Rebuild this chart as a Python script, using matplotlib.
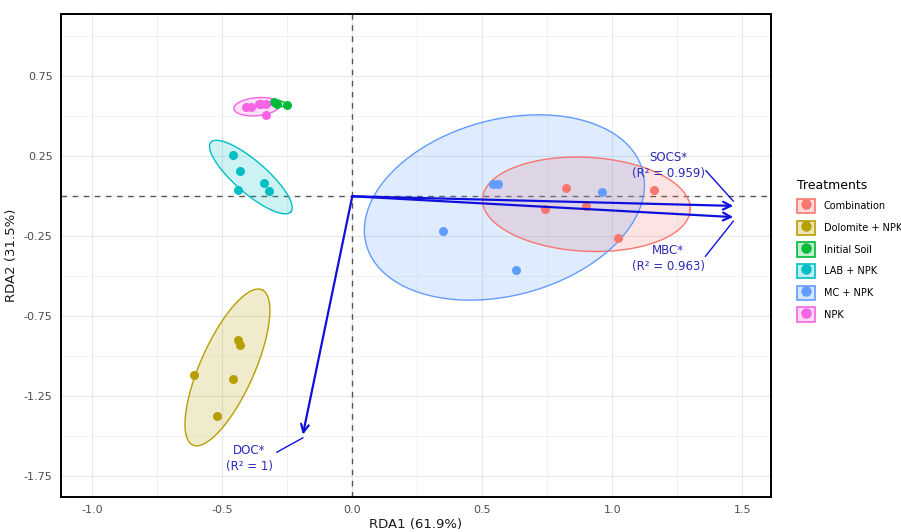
import numpy as np
import matplotlib.pyplot as plt
from matplotlib.patches import Rectangle
from matplotlib.lines import Line2D

# ---- data ----
groups = ["Combination", "Dolomite + NPK", "Initial Soil", "LAB + NPK", "MC + NPK", "NPK"]
colors = ["#F8766D", "#B79F00", "#00BA38", "#00BFC4", "#619CFF", "#F564E3"]

rda1 = {
    "Combination": [0.82, 1.16, 0.74, 0.90, 1.02],
    "Dolomite + NPK": [-0.44, -0.43, -0.61, -0.46, -0.52],
    "Initial Soil": [-0.30, -0.29, -0.25],
    "LAB + NPK": [-0.46, -0.43, -0.44, -0.34, -0.32],
    "MC + NPK": [0.54, 0.56, 0.96, 0.35, 0.63],
    "NPK": [-0.41, -0.39, -0.36, -0.35, -0.33, -0.33],
}
rda2 = {
    "Combination": [0.05, 0.04, -0.08, -0.06, -0.26],
    "Dolomite + NPK": [-0.90, -0.93, -1.12, -1.14, -1.375],
    "Initial Soil": [0.59, 0.58, 0.57],
    "LAB + NPK": [0.26, 0.16, 0.04, 0.08, 0.03],
    "MC + NPK": [0.075, 0.075, 0.025, -0.22, -0.46],
    "NPK": [0.56, 0.56, 0.575, 0.575, 0.575, 0.51],
}

# ellipse: centre (data), semi-axes (screen px), angle (deg)
ell_cx = [0.90, -0.48, -0.275, -0.39, 0.585, -0.367]
ell_cy = [-0.05, -1.07, 0.58, 0.12, -0.07, 0.56]
ell_a = [104, 85, 9, 53, 143, 23]
ell_b = [47, 27, 2.5, 16, 88, 9]
ell_ang = [-3, 66, -20, -41, 15, 5]

# environmental vectors
env_names = ["SOCS*\n(R² = 0.959)", "MBC*\n(R² = 0.963)", "DOC*\n(R² = 1)"]
env_x = [1.465, 1.465, -0.19]
env_y = [-0.06, -0.13, -1.49]
lab_x = [1.215, 1.215, -0.395]
lab_y = [0.19, -0.39, -1.64]
lead_x0 = [1.36, 1.358, -0.29]
lead_y0 = [0.16, -0.375, -1.60]
lead_x1 = [1.465, 1.465, -0.19]
lead_y1 = [-0.03, -0.156, -1.51]

sx, sy = 260.0, 160.0  # px per data unit (x, y)

fig = plt.figure(figsize=(9.01, 5.32), dpi=100)
ax = fig.add_axes([0.0677, 0.0658, 0.788, 0.908])

t = np.linspace(0, 2 * np.pi, 200)
for i, g in enumerate(groups):
    th = np.radians(ell_ang[i])
    px = ell_a[i] * np.cos(t) * np.cos(th) - ell_b[i] * np.sin(t) * np.sin(th)
    py = ell_a[i] * np.cos(t) * np.sin(th) + ell_b[i] * np.sin(t) * np.cos(th)
    ex = ell_cx[i] + px / sx
    ey = ell_cy[i] + py / sy
    ax.fill(ex, ey, color=colors[i], alpha=0.2, lw=0, zorder=2)
    ax.plot(ex, ey, color=colors[i], lw=1.0, zorder=3)

for i, g in enumerate(groups):
    ax.scatter(rda1[g], rda2[g], s=42, color=colors[i], zorder=4, linewidths=0)

ax.axhline(0, color="#555555", ls=(0, (4, 4)), lw=1, zorder=1)
ax.axvline(0, color="#555555", ls=(0, (4, 4)), lw=1, zorder=1)

blue = "#1010DD"
txtblue = "#2A2AB8"
for i in range(3):
    ax.annotate("", xy=(env_x[i], env_y[i]), xytext=(0, 0),
                arrowprops=dict(arrowstyle="->", color=blue, lw=1.6,
                                mutation_scale=14, shrinkA=0, shrinkB=0), zorder=5)
    ax.plot([lead_x0[i], lead_x1[i]], [lead_y0[i], lead_y1[i]], color=blue, lw=1.0, zorder=5)
    ax.text(lab_x[i], lab_y[i], env_names[i], color=txtblue, fontsize=8.5,
            ha="center", va="center", linespacing=1.3, zorder=6)

ax.set_xlim(-1.12, 1.61)
ax.set_ylim(-1.88, 1.14)
ax.set_xticks([-1.0, -0.5, 0.0, 0.5, 1.0, 1.5])
ax.set_xticks([-0.75, -0.25, 0.25, 0.75, 1.25], minor=True)
ax.set_yticks([0.75, 0.25, -0.25, -0.75, -1.25, -1.75])
ax.set_yticks([1.0, 0.5, 0.0, -0.5, -1.0, -1.5], minor=True)
ax.set_xticklabels(["-1.0", "-0.5", "0.0", "0.5", "1.0", "1.5"])
ax.set_yticklabels(["0.75", "0.25", "-0.25", "-0.75", "-1.25", "-1.75"])
ax.grid(True, which="major", color="#E6E6E6", lw=0.8, zorder=0)
ax.grid(True, which="minor", color="#F0F0F0", lw=0.6, zorder=0)
ax.set_axisbelow(True)
ax.tick_params(which="both", length=0, labelsize=8, labelcolor="#4D4D4D", pad=6)
for sp in ax.spines.values():
    sp.set_linewidth(1.4)
    sp.set_color("black")
ax.set_xlabel("RDA1 (61.9%)", fontsize=9.5, color="#1A1A1A", labelpad=2)
ax.set_ylabel("RDA2 (31.5%)", fontsize=9.5, color="#1A1A1A", labelpad=4)

handles = []
for c in colors:
    box = Rectangle((0, 0), 1, 1, facecolor=c, alpha=0.25, edgecolor="none")
    edge = Rectangle((0, 0), 1, 1, facecolor="none", edgecolor=c, lw=1.2)
    dot = Line2D([], [], marker="o", ls="", color=c, markersize=6.5)
    handles.append((box, edge, dot))
leg = fig.legend(handles, groups, title="Treatments", loc="center left",
                 bbox_to_anchor=(0.879, 0.53), frameon=False, fontsize=7,
                 title_fontsize=9, handlelength=1.85, handleheight=1.85,
                 labelspacing=0.78, handletextpad=0.9, borderpad=0)
leg._legend_box.align = "left"

fig.savefig("out.png", dpi=100)
